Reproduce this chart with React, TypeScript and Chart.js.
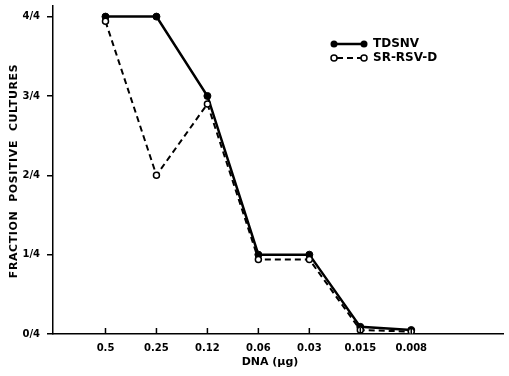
import React, { useEffect, useRef } from "react";
import { Chart, registerables } from "chart.js";

Chart.register(...registerables);

const categories = ["0.5", "0.25", "0.12", "0.06", "0.03", "0.015", "0.008"];
const yTickLabels = ["0/4", "1/4", "2/4", "3/4", "4/4"];
// values in quarters (positive cultures out of 4)
const tdsnv = [4, 4, 3, 1, 1, 0.09, 0.05];
const srRsvD = [3.94, 2, 2.9, 0.94, 0.94, 0.05, 0.03];

const FONT = "'DejaVu Sans', sans-serif";

const overlayPlugin = {
  id: "overlay",
  afterDraw(chart: any) {
    const ctx = chart.ctx as CanvasRenderingContext2D;
    const xs = chart.scales.x;
    const ys = chart.scales.y;
    ctx.save();
    // inward x tick marks
    ctx.strokeStyle = "#000";
    ctx.lineWidth = 1.5;
    const y0 = ys.getPixelForValue(0);
    categories.forEach((_, i) => {
      const x = xs.getPixelForValue(i + 1);
      ctx.beginPath();
      ctx.moveTo(x, y0);
      ctx.lineTo(x, y0 - 6);
      ctx.stroke();
    });
    // y title
    ctx.fillStyle = "#000";
    ctx.font = `bold 11px ${FONT}`;
    (ctx as any).letterSpacing = "0.6px";
    ctx.textAlign = "center";
    ctx.textBaseline = "middle";
    ctx.save();
    ctx.translate(14, 171);
    ctx.rotate(-Math.PI / 2);
    ctx.fillText("FRACTION  POSITIVE  CULTURES", 0, 0);
    ctx.restore();
    // x title
    (ctx as any).letterSpacing = "0px";
    ctx.font = `bold 11px ${FONT}`;
    ctx.fillText("DNA (\u03bcg)", 270, 362);
    // legend
    const lx1 = 334, lx2 = 364, tx = 373;
    const ly1 = 44, ly2 = 58;
    ctx.lineWidth = 2.5;
    ctx.setLineDash([]);
    ctx.beginPath();
    ctx.moveTo(lx1, ly1);
    ctx.lineTo(lx2, ly1);
    ctx.stroke();
    [lx1, lx2].forEach((x) => {
      ctx.beginPath();
      ctx.arc(x, ly1, 3.5, 0, Math.PI * 2);
      ctx.fill();
    });
    ctx.lineWidth = 2;
    ctx.setLineDash([6, 4]);
    ctx.beginPath();
    ctx.moveTo(lx1 + 3, ly2);
    ctx.lineTo(lx2 - 3, ly2);
    ctx.stroke();
    ctx.setLineDash([]);
    ctx.lineWidth = 1.5;
    [lx1, lx2].forEach((x) => {
      ctx.beginPath();
      ctx.arc(x, ly2, 3, 0, Math.PI * 2);
      ctx.fillStyle = "#fff";
      ctx.fill();
      ctx.stroke();
    });
    ctx.fillStyle = "#000";
    ctx.font = `bold 12px ${FONT}`;
    ctx.textAlign = "left";
    ctx.fillText("TDSNV", tx, ly1);
    ctx.fillText("SR-RSV-D", tx, ly2);
    ctx.restore();
  },
};

export default function App() {
  const ref = useRef<HTMLCanvasElement>(null);
  useEffect(() => {
    document.body.style.margin = "0";
    const chart = new Chart(ref.current!, {
      type: "line",
      data: {
        datasets: [
          {
            label: "TDSNV",
            data: tdsnv.map((v, i) => ({ x: i + 1, y: v })),
            borderColor: "#000",
            backgroundColor: "#000",
            borderWidth: 2.5,
            pointRadius: 3.5,
            pointBorderWidth: 1,
            pointBackgroundColor: "#000",
            pointBorderColor: "#000",
            order: 2,
          },
          {
            label: "SR-RSV-D",
            data: srRsvD.map((v, i) => ({ x: i + 1, y: v })),
            borderColor: "#000",
            backgroundColor: "#fff",
            borderWidth: 2,
            borderDash: [6, 4],
            pointRadius: 3,
            pointBorderWidth: 1.5,
            pointBackgroundColor: "#fff",
            pointBorderColor: "#000",
            order: 1,
          },
        ],
      },
      options: {
        responsive: false,
        animation: false,
        layout: { padding: { top: 5, right: 2, left: 0, bottom: 0 } },
        plugins: { legend: { display: false }, tooltip: { enabled: false } },
        scales: {
          x: {
            type: "linear",
            min: -0.03,
            max: 8.81,
            afterBuildTicks: (s: any) => {
              s.ticks = categories.map((_, i) => ({ value: i + 1 }));
            },
            afterFit: (s: any) => {
              s.height = 42;
              s.paddingLeft = 0;
              s.paddingRight = 0;
            },
            grid: { display: false, drawTicks: false },
            border: { display: true, color: "#000", width: 1.5 },
            ticks: {
              color: "#000",
              font: { family: FONT, size: 10, weight: "bold" },
              padding: 8,
              maxRotation: 0,
              autoSkip: false,
              callback: (v: any) => categories[Math.round(v) - 1] ?? "",
            },
          },
          y: {
            type: "linear",
            min: 0,
            max: 4.14,
            afterBuildTicks: (s: any) => {
              s.ticks = yTickLabels.map((_, i) => ({ value: i }));
            },
            afterFit: (s: any) => {
              s.width = 53;
              s.paddingTop = 0;
              s.paddingBottom = 0;
            },
            grid: {
              display: true,
              drawOnChartArea: false,
              drawTicks: true,
              tickLength: 6,
              color: "#000",
              lineWidth: 1.5,
            },
            border: { display: true, color: "#000", width: 1.5 },
            ticks: {
              color: "#000",
              font: { family: FONT, size: 10, weight: "bold" },
              padding: 7,
              callback: (v: any) => yTickLabels[Math.round(v)] ?? "",
            },
          },
        },
      },
      plugins: [overlayPlugin],
    });
    return () => chart.destroy();
  }, []);
  return (
    <div style={{ width: 509, height: 376 }}>
      <canvas ref={ref} width={509} height={376} />
    </div>
  );
}
